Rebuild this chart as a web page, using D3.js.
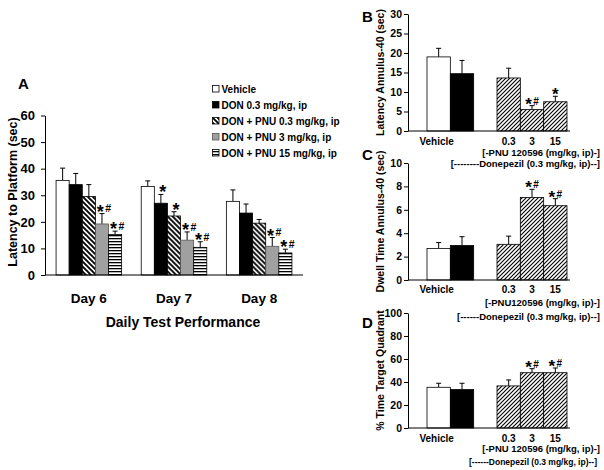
<!DOCTYPE html>
<html>
<head>
<meta charset="utf-8">
<script src="https://cdn.jsdelivr.net/npm/d3@7/dist/d3.min.js"></script>
<style>
  html, body { margin: 0; padding: 0; background: #fff; }
  svg { display: block; font-family: "Liberation Sans", Arial, sans-serif; font-weight: bold; }
</style>
</head>
<body>
<svg id="chart" width="604" height="470"></svg>
<script>
// ---------- Data ----------
// Panel A
const days = ["Day 6", "Day 7", "Day 8"];
const groupsA = ["Vehicle", "DON 0.3 mg/kg, ip", "DON + PNU 0.3 mg/kg, ip", "DON + PNU 3 mg/kg, ip", "DON + PNU 15 mg/kg, ip"];
const day6Mean = [35.6, 34.0, 29.5, 19.2, 15.2];
const day7Mean = [33.3, 27.0, 22.2, 13.1, 10.4];
const day8Mean = [27.7, 23.3, 19.5, 10.8, 8.3];
const day6Err = [4.6, 4.2, 4.5, 3.9, 1.3];
const day7Err = [2.1, 3.3, 1.6, 3.1, 2.1];
const day8Err = [4.3, 3.4, 1.4, 3.3, 1.4];
const day6Sig = ["", "", "", "*#", "*#"];
const day7Sig = ["", "*", "*", "*#", "*#"];
const day8Sig = ["", "", "", "*#", "*#"];
const ticksA = [0, 10, 20, 30, 40, 50, 60];

// Panels B, C, D
const groupsBCD = ["Vehicle", "Donepezil", "0.3", "3", "15"];
const slotsBCD = ["Vehicle", "Donepezil", "gap", "0.3", "3", "15"];
const doseTickLabels = ["Vehicle", "0.3", "3", "15"];
const latencyMean = [19.0, 14.7, 13.6, 5.5, 7.5];
const latencyErr = [2.2, 3.4, 2.5, 1.0, 1.4];
const latencySig = ["", "", "", "*#", "*"];
const dwellMean = [2.7, 2.95, 3.05, 7.05, 6.35];
const dwellErr = [0.5, 0.75, 0.7, 0.7, 0.6];
const dwellSig = ["", "", "", "*#", "*#"];
const targetMean = [35.4, 33.4, 36.6, 48.1, 48.1];
const targetErr = [3.5, 5.5, 5.2, 3.5, 4.1];
const targetSig = ["", "", "", "*#", "*#"];
const ticksB = [0, 5, 10, 15, 20, 25, 30];
const ticksC = [0, 2, 4, 6, 8, 10];
const ticksD = [0, 20, 40, 60, 80, 100];

// ---------- Setup ----------
const svg = d3.select("#chart");
const defs = svg.append("defs");

// "\" hatch for panel A
const pA = defs.append("pattern").attr("id", "hatchA").attr("patternUnits", "userSpaceOnUse")
  .attr("width", 5).attr("height", 5);
pA.append("rect").attr("width", 5).attr("height", 5).attr("fill", "#fff");
pA.append("path").attr("d", "M0,0L5,5M-1,4L1,6M4,-1L6,1").attr("stroke", "#000").attr("stroke-width", 1.9);

// "/" hatch for panels B-D
const pB = defs.append("pattern").attr("id", "hatchB").attr("patternUnits", "userSpaceOnUse")
  .attr("width", 4).attr("height", 4);
pB.append("rect").attr("width", 4).attr("height", 4).attr("fill", "#fff");
pB.append("path").attr("d", "M0,4L4,0M-1,1L1,-1M3,5L5,3").attr("stroke", "#000").attr("stroke-width", 1.1);

// horizontal stripes
const pS = defs.append("pattern").attr("id", "stripes").attr("patternUnits", "userSpaceOnUse")
  .attr("width", 4).attr("height", 3);
pS.append("rect").attr("width", 4).attr("height", 3).attr("fill", "#fff");
pS.append("rect").attr("y", 1).attr("width", 4).attr("height", 1.3).attr("fill", "#000");

const fillsA = ["#ffffff", "#000000", "url(#hatchA)", "#a0a0a0", "url(#stripes)"];
const fillsBCD = ["#ffffff", "#000000", "url(#hatchB)", "url(#hatchB)", "url(#hatchB)"];

function sigText(g, x, y, s, starSize, hashSize) {
  if (!s) return;
  const t = g.append("text").attr("x", x).attr("y", y).attr("text-anchor", "middle");
  for (const ch of s) {
    if (ch === "*") t.append("tspan").attr("font-size", starSize).text("*");
    else t.append("tspan").attr("font-size", hashSize).attr("dy", -hashSize * 0.5).attr("dx", 1.5).text("#");
  }
}

// ---------- Panel A ----------
(function () {
  const x0 = 45, x1 = 303, yBase = 275, yTop = 115.5;
  const y = d3.scaleLinear().domain([0, 60]).range([yBase, yTop]);
  const xDay = d3.scaleBand().domain(days).range([x0, x1]).paddingInner(0.23).paddingOuter(0.13);
  const xGrp = d3.scaleBand().domain(groupsA).range([0, xDay.bandwidth()]);
  const means = [day6Mean, day7Mean, day8Mean];
  const errs = [day6Err, day7Err, day8Err];
  const sigs = [day6Sig, day7Sig, day8Sig];
  const g = svg.append("g");

  days.forEach((d, di) => {
    const gg = g.append("g").attr("transform", `translate(${xDay(d)},0)`);
    groupsA.forEach((k, ki) => {
      const bx = xGrp(k), bw = xGrp.bandwidth();
      const m = means[di][ki], e = errs[di][ki];
      gg.append("line").attr("x1", bx + bw / 2).attr("x2", bx + bw / 2)
        .attr("y1", y(m)).attr("y2", y(m + e)).attr("stroke", "#000").attr("stroke-width", 1);
      gg.append("line").attr("x1", bx + bw / 2 - 2.5).attr("x2", bx + bw / 2 + 2.5)
        .attr("y1", y(m + e)).attr("y2", y(m + e)).attr("stroke", "#000").attr("stroke-width", 1);
      gg.append("rect").attr("x", bx).attr("y", y(m)).attr("width", bw).attr("height", yBase - y(m))
        .attr("fill", fillsA[ki]).attr("stroke", ki === 3 ? "#555" : "#000").attr("stroke-width", 0.8);
      sigText(gg, bx + bw / 2 + 2, y(m + e) + 4, sigs[di][ki], 18, 10.5);
    });
  });

  const ax = g.append("g").attr("transform", `translate(${x0},0)`)
    .call(d3.axisLeft(y).tickValues(ticksA).tickSize(4).tickSizeOuter(0).tickPadding(6));
  ax.select(".domain").attr("stroke-width", 1);
  ax.selectAll("text").attr("font-size", 13).attr("font-weight", "bold").attr("font-family", "Liberation Sans, Arial, sans-serif");
  g.append("line").attr("x1", x0).attr("x2", x1).attr("y1", yBase).attr("y2", yBase).attr("stroke", "#000");

  days.forEach(d => {
    g.append("text").attr("x", xDay(d) + xDay.bandwidth() / 2).attr("y", 303)
      .attr("text-anchor", "middle").attr("font-size", 13.5).text(d);
  });
  g.append("text").attr("x", 183).attr("y", 327).attr("text-anchor", "middle").attr("font-size", 14)
    .text("Daily Test Performance");
  g.append("text").attr("transform", "translate(17,192) rotate(-90)").attr("text-anchor", "middle")
    .attr("font-size", 12.5).text("Latency to Platform (sec)");
  g.append("text").attr("x", 18).attr("y", 89).attr("font-size", 15).text("A");

  // legend
  groupsA.forEach((k, i) => {
    const by = 93 + i * 16;
    g.append("rect").attr("x", 212.5).attr("y", by - 7.5).attr("width", 6.5).attr("height", 6.5)
      .attr("fill", fillsA[i]).attr("stroke", i === 3 ? "#555" : "#000").attr("stroke-width", 0.8);
    g.append("text").attr("x", 221.5).attr("y", by).attr("font-size", 10).text(k);
  });
})();

// ---------- Panels B, C, D ----------
function smallPanel(opts) {
  const x0 = 408, x1 = 570;
  const y = d3.scaleLinear().domain([0, opts.max]).range([opts.yBase, opts.yTop]);
  const xs = d3.scaleBand().domain(slotsBCD).range([427, 567]);
  const g = svg.append("g");
  groupsBCD.forEach((k, ki) => {
    const bx = xs(k), bw = xs.bandwidth();
    const m = opts.mean[ki], e = opts.err[ki];
    g.append("line").attr("x1", bx + bw / 2).attr("x2", bx + bw / 2)
      .attr("y1", y(m)).attr("y2", y(m + e)).attr("stroke", "#000").attr("stroke-width", 1);
    g.append("line").attr("x1", bx + bw / 2 - 2.5).attr("x2", bx + bw / 2 + 2.5)
      .attr("y1", y(m + e)).attr("y2", y(m + e)).attr("stroke", "#000").attr("stroke-width", 1);
    g.append("rect").attr("x", bx).attr("y", y(m)).attr("width", bw).attr("height", opts.yBase - y(m))
      .attr("fill", fillsBCD[ki]).attr("stroke", "#000").attr("stroke-width", 0.8);
    sigText(g, bx + bw / 2, y(m + e) + 4, opts.sig[ki], 17, 10);
  });
  const ax = g.append("g").attr("transform", `translate(${x0},0)`)
    .call(d3.axisLeft(y).tickValues(opts.ticks).tickSize(4).tickSizeOuter(0).tickPadding(2));
  ax.selectAll("text").attr("font-size", 10.5).attr("font-weight", "bold").attr("font-family", "Liberation Sans, Arial, sans-serif");
  g.append("line").attr("x1", x0).attr("x2", x1).attr("y1", opts.yBase).attr("y2", opts.yBase).attr("stroke", "#000");

  doseTickLabels.forEach(k => {
    const cx = xs(k) + xs.bandwidth() / 2 - (k === "Vehicle" ? 2 : 0);
    g.append("text").attr("x", cx).attr("y", opts.yBase + opts.lab1).attr("text-anchor", "middle")
      .attr("font-size", 10).text(k);
  });
  g.append("text").attr("x", 600).attr("y", opts.yBase + opts.lab2).attr("text-anchor", "end")
    .attr("font-size", 9.5).text(opts.pnu);
  g.append("text").attr("x", opts.donX).attr("y", opts.yBase + opts.lab3).attr("text-anchor", "end")
    .attr("font-size", opts.donSize).text(opts.don);
  g.append("text").attr("transform", `translate(384,${(opts.yBase + opts.yTop) / 2}) rotate(-90)`)
    .attr("text-anchor", "middle").attr("font-size", 10.5).text(opts.ylabel);
  g.append("text").attr("x", 362).attr("y", opts.letterY).attr("font-size", 15).text(opts.letter);
}

smallPanel({ max: 30, yBase: 131, yTop: 14, mean: latencyMean, err: latencyErr, sig: latencySig, ticks: ticksB,
  lab1: 14, lab2: 25, lab3: 36, pnu: "[-PNU 120596 (mg/kg, ip)-]", don: "[--------Donepezil (0.3 mg/kg, ip)--]",
  donX: 600, donSize: 9.5, ylabel: "Latency Annulus-40 (sec)", letter: "B", letterY: 22 });
smallPanel({ max: 10, yBase: 280, yTop: 163, mean: dwellMean, err: dwellErr, sig: dwellSig, ticks: ticksC,
  lab1: 13, lab2: 26, lab3: 40, pnu: "[-PNU120596 (mg/kg, ip)-]", don: "[------Donepezil (0.3 mg/kg, ip)--]",
  donX: 600, donSize: 9.5, ylabel: "Dwell Time Annulus-40 (sec)", letter: "C", letterY: 160 });
smallPanel({ max: 100, yBase: 428, yTop: 313, mean: targetMean, err: targetErr, sig: targetSig, ticks: ticksD,
  lab1: 14, lab2: 24, lab3: 37, pnu: "[-PNU 120596 (mg/kg, ip)-]", don: "[------Donepezil (0.3 mg/kg, ip)--]",
  donX: 597, donSize: 8.5, ylabel: "% Time Target Quadrant", letter: "D", letterY: 328 });
</script>
</body>
</html>
